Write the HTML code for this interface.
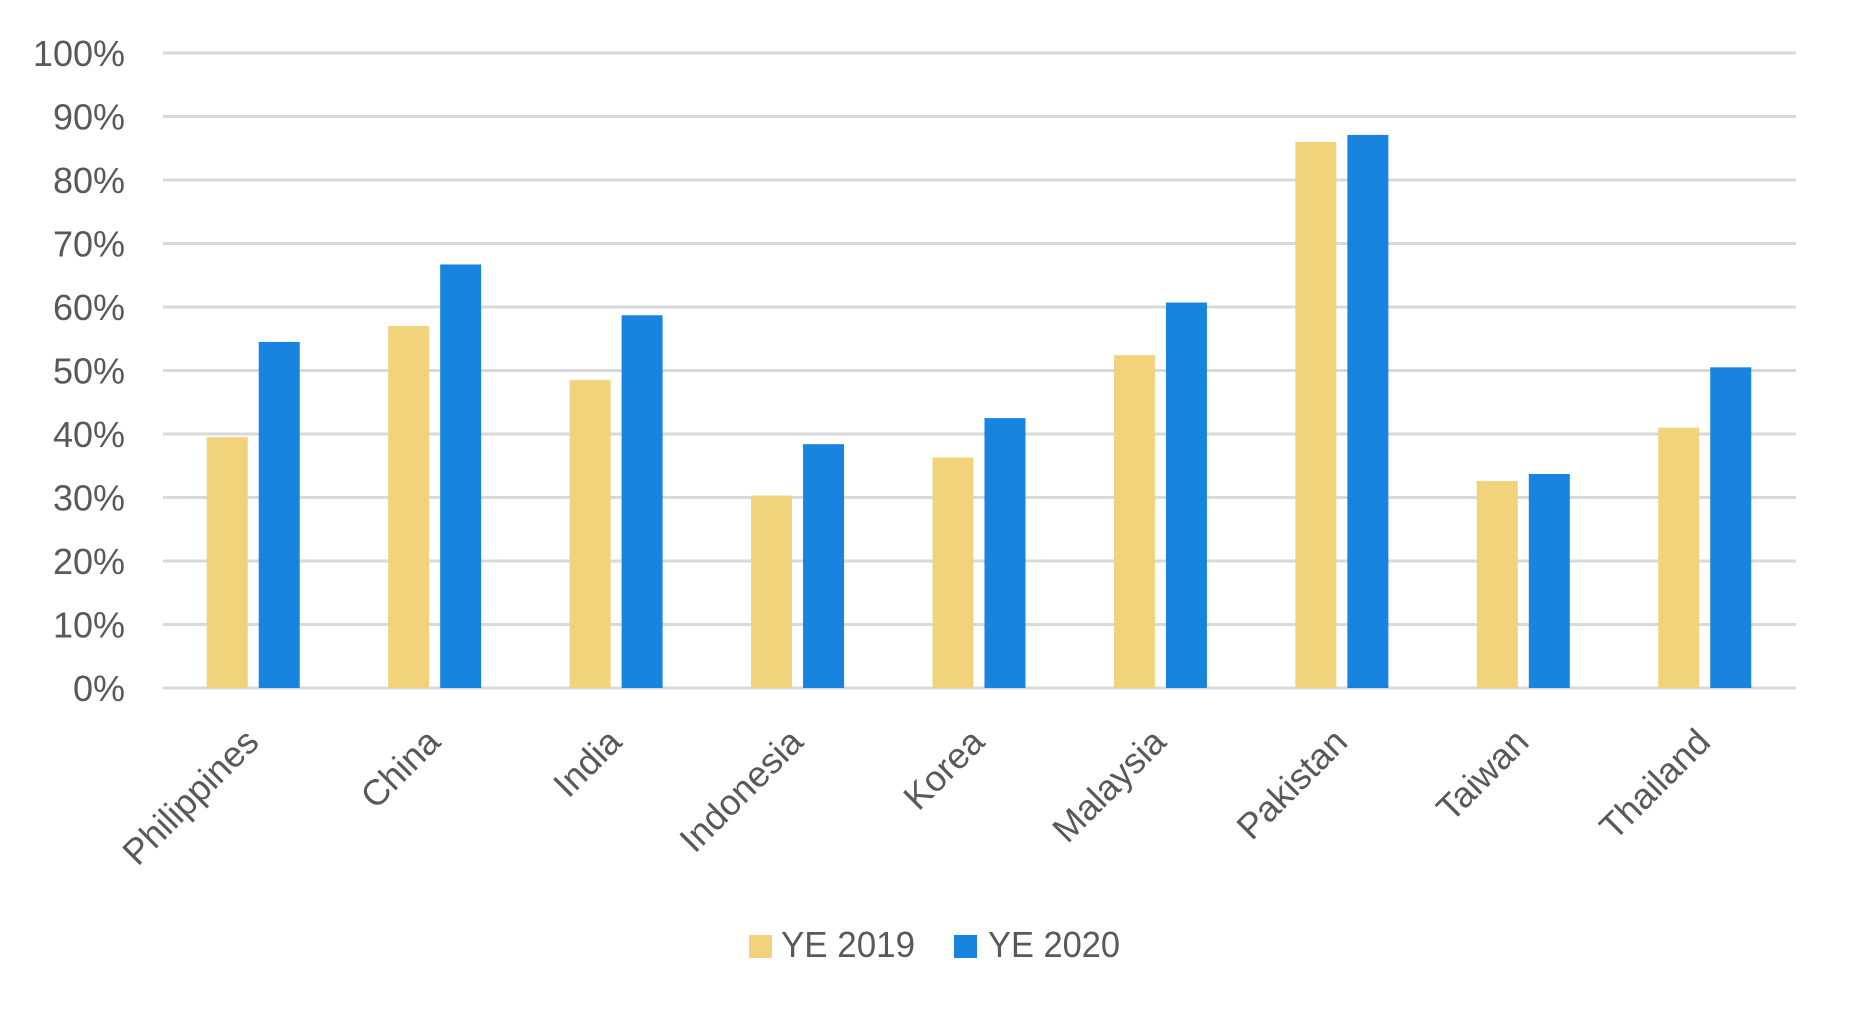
<!DOCTYPE html>
<html><head><meta charset="utf-8"><style>html,body{margin:0;padding:0;background:#fff}svg{display:block}</style></head>
<body>
<svg width="1851" height="1017" viewBox="0 0 1851 1017" xmlns="http://www.w3.org/2000/svg" font-family="'Liberation Sans', sans-serif" fill="#595959">
<g stroke="#d9d9d9" stroke-width="3">
<line x1="163" x2="1796" y1="53" y2="53"/>
<line x1="163" x2="1796" y1="116.5" y2="116.5"/>
<line x1="163" x2="1796" y1="180" y2="180"/>
<line x1="163" x2="1796" y1="243.5" y2="243.5"/>
<line x1="163" x2="1796" y1="307" y2="307"/>
<line x1="163" x2="1796" y1="370.5" y2="370.5"/>
<line x1="163" x2="1796" y1="434" y2="434"/>
<line x1="163" x2="1796" y1="497.5" y2="497.5"/>
<line x1="163" x2="1796" y1="561" y2="561"/>
<line x1="163" x2="1796" y1="624.5" y2="624.5"/>
<line x1="163" x2="1796" y1="688" y2="688"/>
</g>
<g font-size="36" text-anchor="end">
<text x="125" y="66">100%</text>
<text x="125" y="129.5">90%</text>
<text x="125" y="193">80%</text>
<text x="125" y="256.5">70%</text>
<text x="125" y="320">60%</text>
<text x="125" y="383.5">50%</text>
<text x="125" y="447">40%</text>
<text x="125" y="510.5">30%</text>
<text x="125" y="574">20%</text>
<text x="125" y="637.5">10%</text>
<text x="125" y="701">0%</text>
</g>
<g id="bars"></g>
<g font-size="36">
<rect x="749" y="935" width="23" height="23" fill="#f1d37c"/>
<text x="781" y="957" textLength="134" lengthAdjust="spacingAndGlyphs">YE 2019</text>
<rect x="954" y="935" width="23" height="23" fill="#1983e0"/>
<text x="988" y="957" textLength="132" lengthAdjust="spacingAndGlyphs">YE 2020</text>
</g>
<g id="labels" font-size="36" text-anchor="end"></g>
<script>
var names=["Philippines","China","India","Indonesia","Korea","Malaysia","Pakistan","Taiwan","Thailand"];
var a=[39.5,57,48.5,30.3,36.3,52.4,86,32.6,41];
var b=[54.5,66.7,58.7,38.4,42.5,60.7,87.1,33.7,50.5];
var ns="http://www.w3.org/2000/svg",g=document.getElementById("bars"),l=document.getElementById("labels");
for(var i=0;i<9;i++){var c=163+(i+0.5)*181.44;
[[a[i],c-47,"#f1d37c"],[b[i],c+5,"#1983e0"]].forEach(function(d){var r=document.createElementNS(ns,"rect");var y=688-d[0]*6.35;r.setAttribute("x",d[1]);r.setAttribute("width",41);r.setAttribute("y",y);r.setAttribute("height",688-y);r.setAttribute("fill",d[2]);g.appendChild(r);});
var t=document.createElementNS(ns,"text");var x=c+7,y=744;t.setAttribute("x",x);t.setAttribute("y",y);t.setAttribute("transform","rotate(-45 "+x+" "+y+")");t.textContent=names[i];l.appendChild(t);}
</script>
</svg>
</body></html>
